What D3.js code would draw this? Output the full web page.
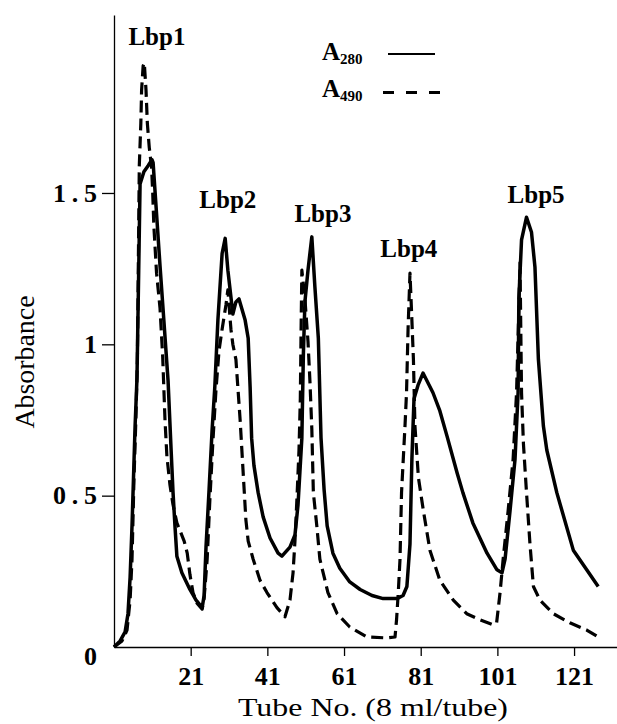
<!DOCTYPE html>
<html>
<head>
<meta charset="utf-8">
<script src="https://cdn.jsdelivr.net/npm/d3@7"></script>
<style>
  html, body { margin: 0; padding: 0; background: #fff; }
  svg { display: block; }
  text { font-family: "Liberation Serif", "Times New Roman", serif; fill: #000; }
</style>
</head>
<body>
<div id="chart"></div>
<script>
// ---------- data ----------
const a280Tubes = [1,2.6,3.9,4.65,5.2,5.7,6.5,7.0,7.4,7.8,8.8,9.9,10.9,11.2,12.0,13.0,14.0,15.1,15.9,16.4,16.9,17.4,18.7,20.8,22.4,24.0,24.5,25.0,25.8,26.6,27.3,28.1,29.2,30.0,30.7,32.0,32.8,33.6,35.2,36.0,36.5,36.9,37.5,38.6,39.9,41.7,43.8,44.8,46.9,48.2,49.0,49.5,50.0,50.4,50.8,51.6,52.6,53.4,54.3,55.0,55.8,56.6,58.1,59.9,62.5,65.2,68.3,71.2,74.8,76.4,77.4,78.2,78.7,79.25,80.3,81.6,84.2,86.0,87.9,90.5,92.0,94.6,98.3,100.9,102.2,103.0,104.3,105.6,106.4,106.6,107.3,108.6,109.9,110.8,111.7,113.0,113.9,116.5,120.8,124.3,127.3];
const a280Values = [0,0.02,0.05,0.11,0.23,0.40,0.73,0.89,1.21,1.53,1.57,1.59,1.61,1.60,1.45,1.26,1.08,0.88,0.65,0.51,0.40,0.30,0.245,0.19,0.155,0.13,0.17,0.33,0.52,0.72,0.86,1.08,1.30,1.35,1.245,1.10,1.14,1.15,1.08,1.02,0.86,0.69,0.60,0.51,0.43,0.36,0.31,0.30,0.33,0.37,0.47,0.58,0.69,0.97,1.14,1.245,1.355,1.19,1.02,0.69,0.52,0.40,0.31,0.26,0.215,0.19,0.17,0.16,0.16,0.17,0.20,0.34,0.62,0.82,0.865,0.905,0.84,0.78,0.695,0.575,0.51,0.41,0.31,0.255,0.245,0.29,0.45,0.62,0.84,1.15,1.345,1.42,1.37,1.255,0.95,0.73,0.65,0.51,0.32,0.255,0.20];

const a490Tubes = [1,3.1,4.4,5.2,5.7,6.2,6.7,7.1,7.6,8.0,8.2,8.6,8.9,9.35,9.7,10.2,10.8,11.1,11.4,12.1,13.0,13.7,14.3,14.8,15.6,16.4,17.4,18.2,19.3,20.1,20.8,21.6,22.65,24.0,24.5,25.3,26.0,26.8,27.6,28.4,29.2,30.2,30.7,31.5,32.0,32.8,33.9,34.65,35.4,36.0,37.3,39.1,40.9,43.5,45.6,46.9,47.7,48.2,48.7,49.25,49.6,49.8,50.0,50.8,51.6,52.1,52.6,53.0,53.9,54.7,56.8,59.2,62.5,67.0,72.2,74.3,74.7,75.15,75.6,76.0,76.9,77.3,77.7,78.2,78.7,79.1,79.5,80.4,81.7,83.4,86.0,89.5,93.0,96.5,100.0,100.8,101.7,102.5,103.8,105.1,106.0,106.45,106.9,107.3,107.8,108.6,109.5,110.4,112.1,115.6,119.9,124.3,127.3];
const a490Values = [0,0.02,0.056,0.155,0.29,0.55,0.75,0.95,1.59,1.73,1.84,1.92,1.93,1.84,1.73,1.65,1.585,1.50,1.39,1.235,1.12,0.96,0.75,0.63,0.535,0.47,0.41,0.385,0.35,0.31,0.24,0.18,0.145,0.125,0.16,0.29,0.485,0.68,0.85,0.98,1.05,1.13,1.18,1.05,1.0,0.95,0.75,0.585,0.42,0.35,0.29,0.22,0.18,0.13,0.10,0.155,0.245,0.35,0.485,0.65,0.82,1.05,1.245,1.15,1.01,0.88,0.72,0.51,0.40,0.29,0.18,0.11,0.066,0.033,0.03,0.033,0.09,0.18,0.29,0.51,0.73,0.84,1.05,1.235,1.08,0.95,0.73,0.56,0.45,0.32,0.22,0.155,0.11,0.09,0.073,0.08,0.18,0.29,0.45,0.62,0.84,1.05,1.27,0.84,0.67,0.51,0.34,0.20,0.155,0.11,0.08,0.056,0.033];

const xTickValues = [21, 41, 61, 81, 101, 121];
const yTickValues = [0.5, 1, 1.5];
const yTickLabels = ["0.5", "1", "1.5"];

const peakNames = ["Lbp1", "Lbp2", "Lbp3", "Lbp4", "Lbp5"];
const peakLabelTubes = [12.2, 30.7, 55.5, 77.9, 111.1];
const peakLabelValues = [1.99, 1.45, 1.404, 1.29, 1.467];

const seriesNames = ["280", "490"];

// ---------- drawing ----------
const W = 617, H = 724;
const svg = d3.select("#chart").append("svg").attr("width", W).attr("height", H);

const x = d3.scaleLinear().domain([1, 132.2]).range([114, 617]);
const y = d3.scaleLinear().domain([0, 2.088]).range([647, 15]);

// axes
const xAxis = svg.append("g").attr("transform", `translate(0,${y(0)})`)
  .call(d3.axisBottom(x).tickValues(xTickValues).tickSize(9).tickSizeOuter(0));
xAxis.select(".domain").attr("stroke", "#000").attr("stroke-width", 1.3);
xAxis.selectAll(".tick line").attr("stroke", "#000").attr("stroke-width", 1.3);
xAxis.selectAll(".tick text")
  .attr("y", 38).attr("dy", 0)
  .style("font-size", "26px").style("font-weight", "bold");

const yAxis = svg.append("g").attr("transform", `translate(${x(1)},0)`)
  .call(d3.axisLeft(y).tickValues(yTickValues).tickSize(12).tickSizeOuter(0)
    .tickFormat((d, i) => yTickLabels[i]));
yAxis.select(".domain").attr("stroke", "#000").attr("stroke-width", 1.3);
yAxis.selectAll(".tick line").attr("stroke", "#000").attr("stroke-width", 1.3);
yAxis.selectAll(".tick text")
  .attr("x", -17)
  .style("font-size", "26px").style("font-weight", "bold")
  .each(function(d, i) {
    if (yTickLabels[i].length > 1) {
      d3.select(this).attr("textLength", 44).attr("lengthAdjust", "spacing");
    }
  });

// "0" origin label
svg.append("text")
  .attr("x", x(1) - 17).attr("y", y(0) + 18)
  .attr("text-anchor", "end")
  .style("font-size", "26px").style("font-weight", "bold")
  .text("0");

// axis titles
svg.append("text")
  .attr("x", 238).attr("y", 716)
  .attr("textLength", 270).attr("lengthAdjust", "spacingAndGlyphs")
  .style("font-size", "26px")
  .text("Tube No.  (8 ml/tube)");

svg.append("text")
  .attr("transform", "translate(34,362) rotate(-90)")
  .attr("text-anchor", "middle")
  .attr("textLength", 133).attr("lengthAdjust", "spacingAndGlyphs")
  .style("font-size", "28px")
  .text("Absorbance");

// lines
const line = d3.line().x(d => x(d[0])).y(d => y(d[1]));
const a280 = a280Tubes.map((t, i) => [t, a280Values[i]]);
const a490 = a490Tubes.map((t, i) => [t, a490Values[i]]);

svg.append("path").datum(a490)
  .attr("d", line)
  .attr("fill", "none").attr("stroke", "#000")
  .attr("stroke-width", 3.2)
  .attr("stroke-dasharray", "12,6")
  .attr("stroke-linejoin", "round");

svg.append("path").datum(a280)
  .attr("d", line)
  .attr("fill", "none").attr("stroke", "#000")
  .attr("stroke-width", 3.5)
  .attr("stroke-linejoin", "round");

// peak labels
svg.selectAll(".peak").data(peakNames).enter().append("text")
  .attr("class", "peak")
  .attr("x", (d, i) => x(peakLabelTubes[i]))
  .attr("y", (d, i) => y(peakLabelValues[i]))
  .attr("text-anchor", "middle")
  .style("font-size", "25px").style("font-weight", "bold")
  .text(d => d);

// legend
const legendRows = [
  { sub: seriesNames[0], ty: 60, ly: 54, x1: 388, x2: 435, dash: null, sw: 2 },
  { sub: seriesNames[1], ty: 97, ly: 92.5, x1: 383, x2: 444, dash: "11,12", sw: 3 }
];
legendRows.forEach(r => {
  const t = svg.append("text").attr("x", 322).attr("y", r.ty)
    .style("font-size", "25px").style("font-weight", "bold");
  t.append("tspan").text("A");
  t.append("tspan").attr("dy", 4).style("font-size", "15px").text(r.sub);
  const l = svg.append("line")
    .attr("x1", r.x1).attr("x2", r.x2).attr("y1", r.ly).attr("y2", r.ly)
    .attr("stroke", "#000").attr("stroke-width", r.sw);
  if (r.dash) l.attr("stroke-dasharray", r.dash);
});
</script>
</body>
</html>
